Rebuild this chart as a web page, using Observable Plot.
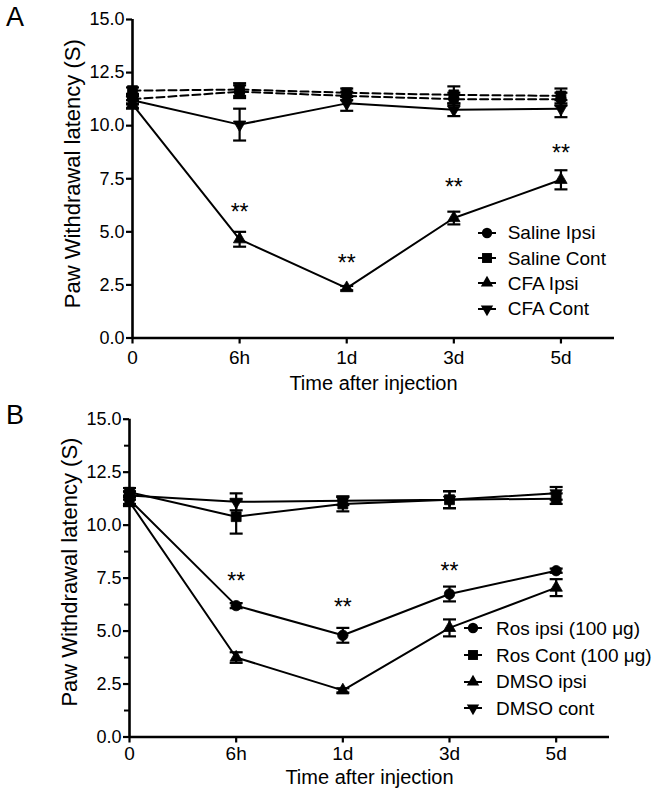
<!DOCTYPE html>
<html><head><meta charset="utf-8">
<script src="https://cdn.jsdelivr.net/npm/d3@7"></script>
<script src="https://cdn.jsdelivr.net/npm/@observablehq/plot@0.6"></script>
<style>
html,body{margin:0;padding:0;background:#fff;}
#wrap{position:relative;width:662px;height:795px;font-family:"Liberation Sans",Arial,sans-serif;color:#000;overflow:hidden;}
.panel{position:absolute;left:0;}
.letter{position:absolute;left:6px;font-size:27px;line-height:1;}
.legend{position:absolute;font-size:19px;line-height:1;}
.legend .row{display:flex;align-items:center;white-space:nowrap;}
.legend svg{display:block;}
</style></head>
<body><div id="wrap"></div>
<script>
// ---------- data ----------
const timeLabels = ["0", "6h", "1d", "3d", "5d"];
const yTicks = [0, 2.5, 5, 7.5, 10, 12.5, 15];
const yMinorTicks = [1.25, 3.75, 6.25, 8.75, 11.25, 13.75];
const xTitle = "Time after injection";
const yTitle = "Paw Withdrawal latency (S)";

// Panel A
const seriesA = ["Saline Ipsi", "Saline Cont", "CFA Ipsi", "CFA Cont"];
const salineIpsiMean = [11.25, 11.6, 11.4, 11.25, 11.25];
const salineIpsiSem  = [0.2, 0.3, 0.2, 0.3, 0.3];
const salineContMean = [11.65, 11.7, 11.55, 11.45, 11.4];
const salineContSem  = [0.15, 0.3, 0.2, 0.4, 0.35];
const cfaIpsiMean    = [11.0, 4.65, 2.35, 5.65, 7.45];
const cfaIpsiSem     = [0.2, 0.35, 0.1, 0.3, 0.45];
const cfaContMean    = [11.2, 10.05, 11.05, 10.75, 10.8];
const cfaContSem     = [0.2, 0.75, 0.35, 0.3, 0.4];
const starsAX = [1, 2, 3, 4];
const starsAY = [6.17, 3.8, 7.35, 8.97];

// Panel B
const seriesB = ["Ros ipsi (100 μg)", "Ros Cont (100 μg)", "DMSO ipsi", "DMSO cont"];
const rosIpsiMean  = [11.2, 6.2, 4.8, 6.75, 7.85];
const rosIpsiSem   = [0.2, 0.12, 0.35, 0.35, 0.1];
const rosContMean  = [11.55, 10.4, 11.0, 11.2, 11.25];
const rosContSem   = [0.2, 0.8, 0.35, 0.4, 0.25];
const dmsoIpsiMean = [11.1, 3.75, 2.2, 5.15, 7.05];
const dmsoIpsiSem  = [0.2, 0.25, 0.1, 0.4, 0.4];
const dmsoContMean = [11.4, 11.1, 11.15, 11.2, 11.5];
const dmsoContSem  = [0.2, 0.4, 0.2, 0.4, 0.3];
const starsBX = [1, 2, 3];
const starsBY = [7.6, 6.4, 8.1];

// ---------- symbols ----------
const sqrt3 = Math.sqrt(3);
const triangleDown = {draw(ctx, size) {
  const y = -Math.sqrt(size / (sqrt3 * 3));
  ctx.moveTo(0, -y * 2); ctx.lineTo(-sqrt3 * y, y); ctx.lineTo(sqrt3 * y, y); ctx.closePath();
}};
const capSym = {draw(ctx, size) {
  const w = Math.sqrt(size / Math.PI);
  ctx.moveTo(-w, 0); ctx.lineTo(w, 0);
}};
const symbols = [d3.symbolCircle, d3.symbolSquare, d3.symbolTriangle, triangleDown];
const symR = [5.2, 5.6, 4.6, 4.6];

function buildPanel(cfg) {
  const marks = [];
  const all = [];
  cfg.series.forEach((name, i) => {
    const d = cfg.means[i].map((m, j) => ({t: j, m, lo: m - cfg.sems[i][j], hi: m + cfg.sems[i][j]}));
    all.push(d);
    marks.push(Plot.line(d, {x: "t", y: "m", stroke: "black", strokeWidth: 2,
      strokeDasharray: cfg.dashed[i] ? "8,4" : null}));
  });
  all.forEach((d) => {
    marks.push(Plot.ruleX(d, {x: "t", y1: "lo", y2: "hi", stroke: "black", strokeWidth: 2.2}));
    marks.push(Plot.dot(d, {x: "t", y: "hi", symbol: capSym, r: 6.5, fill: "none", stroke: "black", strokeWidth: 2.2}));
    marks.push(Plot.dot(d, {x: "t", y: "lo", symbol: capSym, r: 6.5, fill: "none", stroke: "black", strokeWidth: 2.2}));
  });
  all.forEach((d, i) => {
    marks.push(Plot.dot(d, {x: "t", y: "m", symbol: symbols[i], r: symR[i], fill: "black", stroke: "black", strokeWidth: 0.8}));
  });
  marks.push(Plot.text(cfg.starsX.map((x, k) => ({x, y: cfg.starsY[k]})),
    {x: "x", y: "y", text: () => "**", fontSize: 23, dy: 6}));
  // axes
  marks.push(Plot.axisY({ticks: yTicks, tickFormat: (d) => d.toFixed(1), tickSize: 6, tickPadding: 2,
    fontSize: 18, label: null, strokeWidth: 2.2}));
  if (cfg.minor) marks.push(Plot.axisY({ticks: yMinorTicks, tickFormat: () => "", tickSize: 5, label: null, strokeWidth: 2}));
  marks.push(Plot.axisX({ticks: [0, 1, 2, 3, 4], tickFormat: (i) => timeLabels[i], tickSize: 6, tickPadding: cfg.xPad,
    fontSize: 19, label: null, strokeWidth: 2.2}));
  marks.push(Plot.ruleX([0], {stroke: "black", strokeWidth: 2.6}));
  marks.push(Plot.ruleY([0], {stroke: "black", strokeWidth: 2.6}));
  marks.push(Plot.text([yTitle], {frameAnchor: "left", rotate: -90, dx: -60, dy: cfg.yTitleDy, fontSize: 22,
    textAnchor: "middle", lineAnchor: "middle"}));
  marks.push(Plot.text([xTitle], {frameAnchor: "bottom", dy: cfg.xTitleDy, fontSize: 20,
    textAnchor: "middle", lineAnchor: "middle"}));
  return Plot.plot({
    width: 662, height: cfg.height,
    marginTop: cfg.mt, marginBottom: cfg.mb, marginLeft: cfg.ml, marginRight: cfg.mr,
    x: {domain: [0, 4.5]}, y: {domain: [0, 15]},
    style: {fontFamily: '"Liberation Sans", Arial, sans-serif', background: "white", color: "black", overflow: "visible"},
    marks
  });
}

function buildLegend(names, left, top, rowH, gap) {
  const div = document.createElement("div");
  div.className = "legend";
  div.style.left = left + "px";
  div.style.top = top + "px";
  names.forEach((name, i) => {
    const row = document.createElement("div");
    row.className = "row";
    row.style.height = rowH + "px";
    const svg = d3.create("svg").attr("width", 22).attr("height", 20);
    svg.append("line").attr("x1", 2).attr("x2", 20).attr("y1", 10).attr("y2", 10).attr("stroke", "black").attr("stroke-width", 2);
    svg.append("path").attr("transform", "translate(11,10)")
      .attr("d", d3.symbol(symbols[i], symR[i] * symR[i] * Math.PI)()).attr("fill", "black");
    row.appendChild(svg.node());
    const span = document.createElement("span");
    span.textContent = name;
    span.style.marginLeft = gap + "px";
    row.appendChild(span);
    div.appendChild(row);
  });
  return div;
}

const wrap = document.getElementById("wrap");

const pA = document.createElement("div"); pA.className = "panel"; pA.style.top = "0px";
pA.appendChild(buildPanel({series: seriesA,
  means: [salineIpsiMean, salineContMean, cfaIpsiMean, cfaContMean],
  sems: [salineIpsiSem, salineContSem, cfaIpsiSem, cfaContSem],
  dashed: [true, true, false, false], starsX: starsAX, starsY: starsAY, minor: false,
  height: 398, mt: 19, mb: 60.5, ml: 132, mr: 48, xPad: 6, yTitleDy: -5, xTitleDy: 45.5}));
wrap.appendChild(pA);

const pB = document.createElement("div"); pB.className = "panel"; pB.style.top = "398px";
pB.appendChild(buildPanel({series: seriesB,
  means: [rosIpsiMean, rosContMean, dmsoIpsiMean, dmsoContMean],
  sems: [rosIpsiSem, rosContSem, dmsoIpsiSem, dmsoContSem],
  dashed: [false, false, false, false], starsX: starsBX, starsY: starsBY, minor: true,
  height: 397, mt: 20.7, mb: 58.5, ml: 129, mr: 53, xPad: 3, yTitleDy: -6, xTitleDy: 41}));
wrap.appendChild(pB);

const la = document.createElement("div"); la.className = "letter"; la.style.top = "3.5px"; la.textContent = "A"; wrap.appendChild(la);
const lb = document.createElement("div"); lb.className = "letter"; lb.style.top = "401.5px"; lb.textContent = "B"; wrap.appendChild(lb);

wrap.appendChild(buildLegend(seriesA, 475.7, 232.7 - 12.7, 25.4, 10));
wrap.appendChild(buildLegend(seriesB, 462, 628.3 - 13.3, 26.7, 12));
</script>
</body></html>
